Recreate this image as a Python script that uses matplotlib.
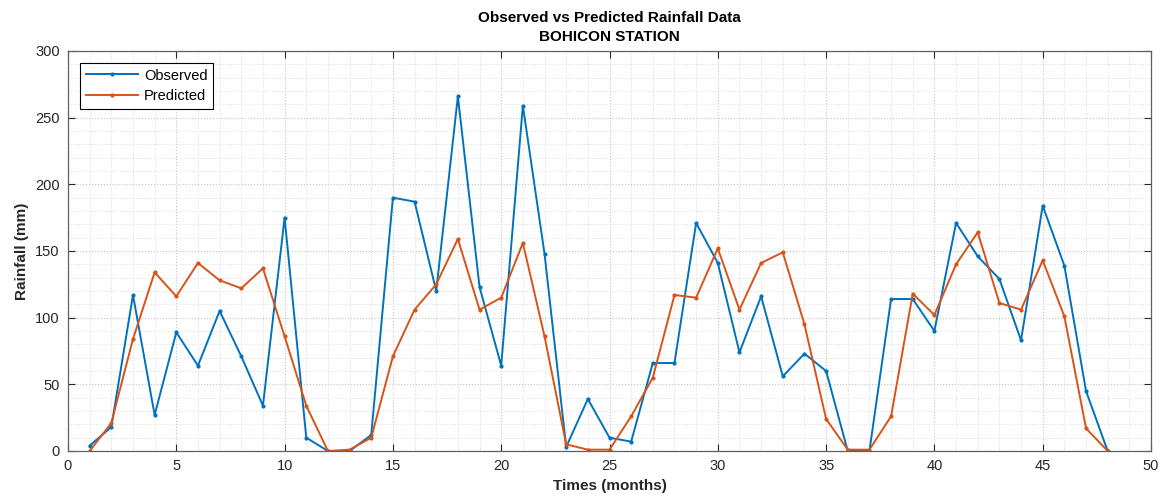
import matplotlib.pyplot as plt
import numpy as np

# data
months = np.arange(1, 49)
observed = [4, 18, 117, 27, 89, 64, 105, 71, 34, 175, 10, 0,
            0, 12, 190, 187, 120, 266, 123, 64, 259, 148, 3, 39,
            10, 7, 66, 66, 171, 141, 74, 116, 56, 73, 60, 0,
            0, 114, 114, 90, 171, 146, 129, 83, 184, 139, 45, 0]
predicted = [0, 21, 84, 134, 116, 141, 128, 122, 137, 86, 34, 0,
             1, 10, 71, 106, 125, 159, 106, 115, 156, 86, 5, 1,
             1, 26, 55, 117, 115, 152, 106, 141, 149, 95, 24, 1,
             1, 26, 118, 102, 140, 164, 111, 106, 143, 101, 17, 0]

# plot settings
col_obs = '#0072BD'
col_pred = '#D95319'
axis_col = '#262626'

plt.rcParams.update({'font.family': ['Liberation Sans', 'DejaVu Sans'],
                     'font.size': 10})

fig = plt.figure(figsize=(11.7, 4.97), dpi=100)
ax = fig.add_axes([68/1170, 1 - 451/497, (1151 - 68)/1170, (451 - 51)/497])

ax.plot(months, observed, color=col_obs, lw=1.4, marker='.', ms=4, label='Observed')
ax.plot(months, predicted, color=col_pred, lw=1.4, marker='.', ms=4, label='Predicted')

ax.set_xlim(0, 50)
ax.set_ylim(0, 300)
ax.set_xticks(range(0, 51, 5))
ax.set_yticks(range(0, 301, 50))
ax.set_xticks(range(0, 51, 1), minor=True)
ax.set_yticks(range(0, 301, 10), minor=True)

ax.grid(which='major', ls=':', color='#c4c4c4', lw=0.8)
ax.grid(which='minor', ls=':', color='#dcdcdc', lw=0.7)
ax.set_axisbelow(True)

ax.tick_params(which='major', direction='in', length=5, width=0.8, color=axis_col,
               top=True, right=True, labelcolor=axis_col, labelsize=10.5, pad=6)
ax.tick_params(which='minor', length=0)
for s in ax.spines.values():
    s.set_color('#606060')
    s.set_linewidth(0.9)

ax.set_xlabel('Times (months)', fontweight='bold', fontsize=11, color=axis_col)
ax.set_ylabel('Rainfall (mm)', fontweight='bold', fontsize=11, color=axis_col)
ax.set_title('Observed vs Predicted Rainfall Data\nBOHICON STATION',
             fontweight='bold', fontsize=11, linespacing=1.5, pad=7)

leg = ax.legend(loc='upper left', fontsize=10.5, fancybox=False, framealpha=1,
                edgecolor='black', borderaxespad=0.8, handlelength=3.6,
                handletextpad=0.4, labelspacing=0.45)
leg.get_frame().set_linewidth(0.8)

plt.savefig('out.png', dpi=100)
